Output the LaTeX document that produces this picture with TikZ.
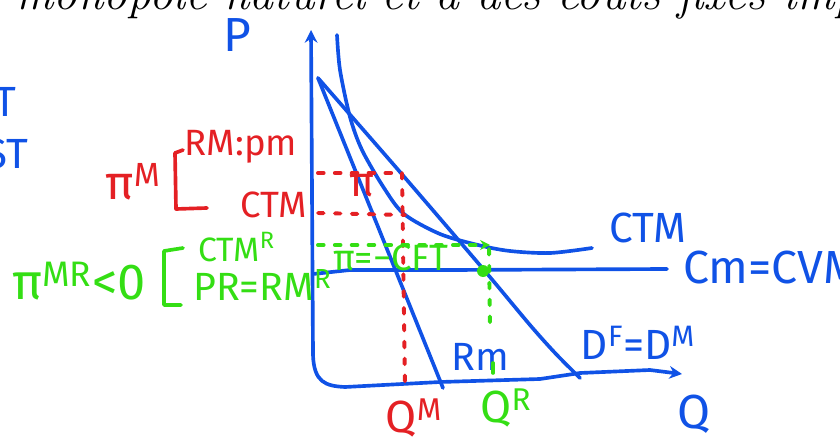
\documentclass[tikz,border=0pt]{standalone}
\usepackage{fontspec}
\newfontfamily\handfont{Fira Sans}
\usetikzlibrary{arrows.meta}
\definecolor{penblue}{RGB}{16,82,230}
\definecolor{penred}{RGB}{228,32,36}
\definecolor{pengreen}{RGB}{52,222,20}
\tikzset{
  axis/.style={draw=penblue, line width=2.6pt, line cap=round, line join=round, {Stealth[length=9pt,width=9pt]}-{Stealth[length=9pt,width=9pt]}},
  curve/.style={draw=penblue, line width=2.6pt, line cap=round, line join=round},
  redguide/.style={draw=penred, line width=2.8pt, line cap=round, dash pattern=on 4pt off 8pt},
  greenguide/.style={draw=pengreen, line width=2.8pt, line cap=round, dash pattern=on 4pt off 8pt},
  bracket/.style={line width=2.6pt, line cap=round, line join=round},
  bluetxt/.style={text=penblue, font=\handfont\fontsize{30}{30}\selectfont, inner sep=0pt},
  redtxt/.style={text=penred, font=\handfont\fontsize{26}{26}\selectfont, inner sep=0pt},
  greentxt/.style={text=pengreen, font=\handfont\fontsize{26}{26}\selectfont, inner sep=0pt},
}

\begin{document}
\begin{tikzpicture}[x=0.025cm, y=-0.025cm]
\useasboundingbox (0,0) rectangle (840,446);

% heading, cut by the top edge
\node[anchor=base west, inner sep=0pt, font=\itshape\fontsize{34}{34}\selectfont] (head) at (476,10)
  {\llap{un monopole naturel et à }des coûts fixes importants};

% axes
\coordinate (ytop) at (311,30);
\coordinate (xend) at (682,374);
\draw[axis] (ytop) -- (313,355) .. controls (314,382) and (325,386) .. (345,387)
  -- (440,382) -- (540,379) -- (580,373) -- (650,370) -- (xend);
\node[bluetxt, font=\handfont\fontsize{34}{34}\selectfont] (plbl) at (237,35) {P};
\node[bluetxt, font=\handfont\fontsize{34}{34}\selectfont] (qlbl) at (694,414) {Q};

% cut words on the left edge
\node[bluetxt, anchor=east] (cuta) at (17,102) {T};
\node[bluetxt, anchor=east] (cutb) at (29,154) {ST};

% demand, marginal revenue, costs
\coordinate (dtop) at (318,78);
\coordinate (dend) at (580,378);
\coordinate (rmend) at (443,388);
\draw[curve] (dtop) -- (rmend);
\draw[curve] plot[smooth] coordinates {(318,78) (400,172) (484,270) (530,325) (556,354) (580,378)};
\draw[curve] plot[smooth] coordinates {(337,35) (340,70) (350,117) (362,150) (384,188) (404,214) (440,234) (478,245) (510,251) (550,253) (592,248)};
\coordinate (cml) at (313,274);
\coordinate (cmr) at (667,269);
\draw[curve] (cml) -- (350,270) -- (450,270) -- (cmr);

\node[bluetxt] (ctmlbl) at (648,228) {CTM};
\node[bluetxt, anchor=west, font=\handfont\fontsize{33}{33}\selectfont] (cmlbl) at (683,268) {Cm=CVM};
\node[bluetxt] (dlbl) at (638,343) {D\textsuperscript{F}=D\textsuperscript{M}};
\node[bluetxt, font=\handfont\fontsize{28}{28}\selectfont] (rmlbl) at (480,357) {Rm};

% monopole: price and cost
\coordinate (pml) at (318,173);
\coordinate (pmr) at (402,173);
\coordinate (ctml) at (318,213);
\coordinate (ctmr) at (405,215);
\coordinate (qm) at (405,385);
\draw[redguide] (pml) -- (pmr);
\draw[redguide] (ctml) -- (ctmr);
\draw[redguide] (pmr) -- (qm);
\node[redtxt, font=\handfont\fontsize{30}{30}\selectfont] (pibox) at (362,186) {π};
\node[redtxt, font=\handfont\fontsize{32}{32}\selectfont] (qmlbl) at (414,418) {Q\textsuperscript{M}};

\node[redtxt, font=\handfont\fontsize{34}{34}\selectfont] (pim) at (133,182) {π\textsuperscript{M}};
\draw[bracket, penred] (183,150) -- (175,153) -- (176,209) -- (207,208);
\node[redtxt] (rmpm) at (241,147) {RM:pm};
\node[redtxt] (ctmred) at (274,205) {CTM};

% regulated: price at marginal cost
\coordinate (prl) at (318,245);
\coordinate (prr) at (490,245);
\coordinate (qrtop) at (489,249);
\coordinate (qrbot) at (490,327);
\draw[greenguide, -{Stealth[length=7pt,width=7pt]}] (prl) -- (prr);
\draw[greenguide] (qrtop) -- (qrbot);
\fill[pengreen] (483,271) circle (6);
\draw[bracket, pengreen] (493,363) -- (493,373);
\node[greentxt, font=\handfont\fontsize{26}{26}\selectfont] (picft) at (391,258) {π=−CFT};
\node[greentxt, font=\handfont\fontsize{32}{32}\selectfont] (qrlbl) at (506,408) {Q\textsuperscript{R}};

\node[greentxt, anchor=west, font=\handfont\fontsize{36}{36}\selectfont] (pimr) at (12,281) {π\textsuperscript{MR}<0};
\draw[bracket, pengreen] (183,248) -- (164,251) -- (164,305) -- (181,305);
\node[greentxt, anchor=west, font=\handfont\fontsize{24}{24}\selectfont] (ctmrlbl) at (198,247) {CTM\textsuperscript{R}};
\node[greentxt, anchor=west, font=\handfont\fontsize{28}{28}\selectfont] (prrm) at (193,285) {PR=RM\textsuperscript{R}};
\end{tikzpicture}
\end{document}
